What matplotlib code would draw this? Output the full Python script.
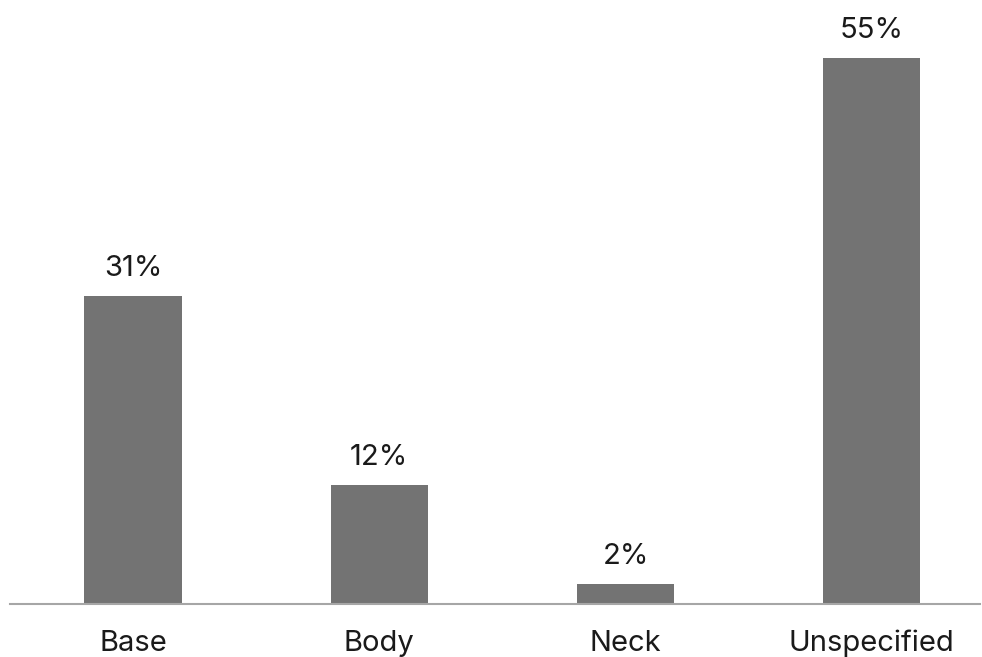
import matplotlib.pyplot as plt

plt.rcParams['font.family'] = ['Inter', 'DejaVu Sans']

categories = ["Base", "Body", "Neck", "Unspecified"]
shares = [31, 12, 2, 55]
labels = ["31%", "12%", "2%", "55%"]

fig = plt.figure(figsize=(9.82, 6.57), dpi=100)
ax = fig.add_axes([10 / 982, (657 - 604) / 657, 970 / 982, 604 / 657])

x = range(len(categories))
ax.bar(x, shares, width=0.395, color="#737373", zorder=2)

for xi, v, t in zip(x, shares, labels):
    ax.annotate(t, (xi, v), xytext=(0, 14.4), textcoords="offset points",
                ha="center", va="baseline", fontsize=21, color="#1a1a1a")

ax.set_xlim(-0.5, 3.44)
ax.set_ylim(0, 60.8)
ax.set_xticks(list(x))
ax.set_xticklabels(categories, fontsize=21, color="#1a1a1a")
for lbl in ax.get_xticklabels():
    lbl.set_verticalalignment("baseline")
ax.tick_params(axis="x", length=0, pad=33.8)
ax.set_yticks([])
for s in ["top", "right", "left"]:
    ax.spines[s].set_visible(False)
ax.spines["bottom"].set_color("#a6a6a6")
ax.spines["bottom"].set_linewidth(1.5)

fig.savefig("out.png", dpi=100)
